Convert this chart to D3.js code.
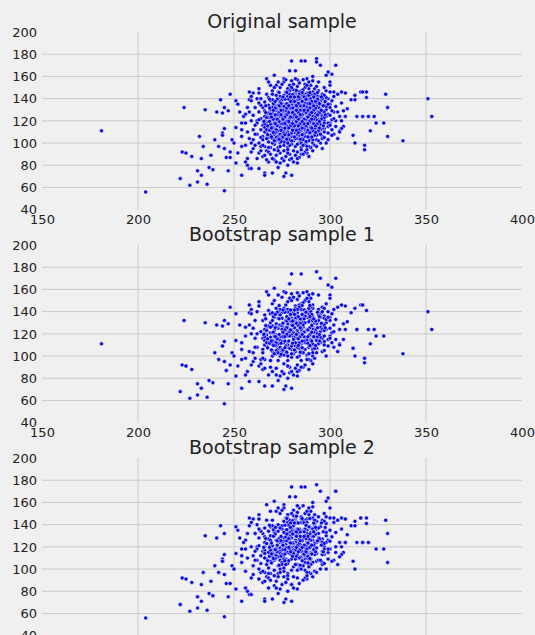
<!DOCTYPE html>
<html>
<head>
<meta charset="utf-8">
<script src="https://cdn.jsdelivr.net/npm/d3@7"></script>
<style>
  html, body { margin: 0; padding: 0; background: #f0f0f0; }
  svg { display: block; }
</style>
</head>
<body>
<svg id="chart" width="535" height="635"></svg>
<script>
// Panel titles and axis ticks
const titles = ["Original sample", "Bootstrap sample 1", "Bootstrap sample 2"];
const xTicks = [150, 200, 250, 300, 350, 400];
const yTicks = [40, 60, 80, 100, 120, 140, 160, 180, 200];

// Original observations [x, y], ten per line
const sample = [
  [181,111],[204,56],[224,132],[223,92],[225,91],[222,68],[227,62],[228,88],[232,106],[234,97],
  [235,130],[231,75],[233,71],[231,65],[236,63],[233,86],[238,89],[237,78],[239,76],[240,103],
  [241,128],[244,127],[242,97],[243,139],[245,57],[244,109],[244,107],[245,95],[245,113],[245,132],
  [247,129],[247,75],[248,144],[246,87],[248,87],[248,92],[249,103],[250,100],[251,138],[252,135],
  [251,114],[252,91],[251,82],[253,128],[254,112],[254,118],[254,106],[254,71],[254,97],[256,126],
  [255,124],[256,118],[256,83],[257,80],[258,77],[257,86],[258,146],[259,77],[258,139],[259,138],
  [259,92],[260,103],[260,145],[263,91],[263,77],[263,149],[266,73],[266,71],[267,158],[262,120],
  [280,174],[285,174],[287,174],[293,176],[293,173],[295,170],[303,170],[299,164],[298,161],[301,162],
  [279,165],[282,165],[271,161],[300,155],[300,152],[302,146],[306,146],[308,145],[304,144],[311,139],
  [313,139],[313,143],[316,146],[317,146],[319,146],[319,141],[329,144],[330,132],[351,140],[353,124],
  [338,102],[330,106],[328,118],[324,118],[321,111],[314,124],[317,124],[320,124],[323,124],[318,98],
  [318,94],[313,100],[312,107],[307,115],[306,113],[305,111],[309,131],[307,129],[305,124],[302,108],
  [301,107],[305,110],[299,115],[297,113],[296,113],[293,107],[293,103],[291,93],[288,91],[286,90],
  [280,71],[277,73],[276,70],[270,73],[283,82],[285,90],[273,78],[278,80],[290,96],[295,100],
  [268,155],[272,152],[276,158],[288,158],[291,160],[284,155],[294,155],[297,150],[265,88],[268,83],
  [271,85],[274,82],[279,85],[264,97],[267,93],[300,135],[302,128],[303,120],[300,118],[299,140],
  [270,147],[274,150],[277,146],[279,152],[281,148],[283,151],[285,147],[287,153],[289,149],[291,146],
  [276,155],[280,156],[282,145],[286,157],[288,145],[273,146],[278,149],[284,154],[290,152],[292,149],
  [271,150],[275,153],[279,147],[283,157],[287,150],[289,155],[293,151],[281,153],[285,145],[277,157],
  [269,152],[273,155],[280,150],[282,158],[286,148],[288,152],[291,156],[294,147],[284,146],[278,146],
  [266,137],[268,141],[270,144],[272,138],[274,142],[275,136],[277,140],[278,144],[279,137],[280,141],
  [281,135],[282,143],[283,139],[284,136],[285,142],[286,138],[287,144],[288,135],[289,141],[290,137],
  [291,143],[292,139],[293,136],[294,142],[295,138],[296,144],[297,136],[298,141],[271,135],[273,140],
  [276,143],[279,139],[281,144],[283,136],[285,139],[287,141],[289,138],[291,136],[293,143],[295,135],
  [267,144],[269,138],[272,143],[275,139],[277,135],[280,138],[282,141],[284,144],[286,135],[288,142],
  [290,140],[292,144],[294,137],[296,140],[278,142],[280,136],[283,142],[286,143],[288,139],[290,144],
  [274,137],[276,141],[279,144],[281,139],[284,140],[287,136],[289,143],[292,141],[270,139],[297,143],
  [263,128],[265,132],[267,126],[268,134],[269,130],[270,127],[271,133],[272,129],[273,125],[274,131],
  [275,134],[276,128],[277,132],[278,126],[279,130],[280,134],[281,127],[282,131],[283,125],[284,133],
  [285,129],[286,126],[287,132],[288,128],[289,134],[290,130],[291,126],[292,133],[293,129],[294,125],
  [295,131],[296,127],[297,134],[298,130],[299,126],[300,132],[266,129],[268,127],[270,132],[272,126],
  [274,128],[276,133],[278,129],[280,125],[282,134],[284,127],[286,131],[288,125],[290,133],[292,127],
  [294,132],[296,129],[271,130],[273,134],[275,127],[277,129],[279,133],[281,129],[283,132],[285,125],
  [287,127],[289,131],[291,129],[293,133],[295,126],[297,128],[264,134],[269,126],[274,133],[278,132],
  [280,128],[282,126],[284,130],[286,134],[288,132],[290,126],[292,130],[276,125],[279,127],[283,129],
  [285,133],[287,130],[289,127],[291,132],[294,128],[298,133],[272,131],[277,126],[281,132],[286,128],
  [262,118],[264,122],[265,116],[266,124],[267,119],[268,115],[269,121],[270,117],[271,123],[272,119],
  [273,116],[274,124],[275,120],[276,117],[277,122],[278,118],[279,124],[280,116],[281,121],[282,119],
  [283,123],[284,117],[285,121],[286,115],[287,119],[288,124],[289,118],[290,122],[291,116],[292,120],
  [293,124],[294,118],[295,122],[296,116],[297,120],[298,124],[299,118],[301,121],[266,120],[268,123],
  [270,121],[272,116],[274,119],[276,123],[278,121],[280,119],[282,124],[284,120],[286,122],[288,116],
  [290,119],[292,123],[294,121],[296,124],[271,118],[273,121],[275,124],[277,117],[279,120],[281,117],
  [283,119],[285,124],[287,122],[289,121],[291,124],[293,119],[295,117],[297,123],[269,117],[272,122],
  [276,120],[278,115],[280,123],[282,117],[284,123],[286,119],[288,120],[290,115],[292,117],[275,117],
  [277,124],[279,118],[281,123],[283,116],[285,118],[287,116],[289,124],[263,121],[267,123],[300,116],
  [274,116],[279,122],[283,121],[288,118],[291,120],[266,117],[281,115],[293,121],[297,118],[285,116],
  [262,108],[264,112],[265,106],[266,114],[267,109],[268,105],[269,111],[270,107],[271,113],[272,109],
  [273,106],[274,114],[275,110],[276,107],[277,112],[278,108],[279,114],[280,106],[281,111],[282,109],
  [283,113],[284,107],[285,111],[286,105],[287,109],[288,114],[289,108],[290,112],[291,106],[292,110],
  [293,114],[294,108],[295,112],[296,106],[297,110],[299,109],[264,105],[266,110],[268,113],[270,111],
  [272,105],[274,108],[276,112],[278,110],[280,113],[282,106],[284,110],[286,113],[288,106],[290,109],
  [292,113],[294,111],[271,108],[273,111],[275,106],[277,109],[279,107],[281,114],[283,108],[285,114],
  [287,112],[289,105],[291,111],[293,107],[269,107],[275,113],[278,105],[282,112],[287,106],[290,114],
  [267,112],[272,112],[276,109],[280,109],[284,112],[288,110],[292,107],[295,108],[270,114],[286,108],
  [263,100],[265,103],[266,97],[268,101],[269,96],[270,104],[271,99],[272,102],[273,96],[274,100],
  [275,104],[276,98],[277,101],[278,96],[279,103],[280,99],[281,102],[282,97],[283,104],[284,100],
  [285,96],[286,103],[287,99],[288,101],[289,97],[290,104],[291,100],[292,98],[294,102],[296,104],
  [267,104],[270,100],[273,103],[276,101],[279,98],[282,104],[285,100],[288,97],[291,103],[293,97],
  [265,98],[268,96],[271,102],[274,97],[277,104],[280,102],[283,99],[286,98],[289,102],[278,100],
  [264,93],[266,89],[268,92],[270,86],[271,94],[272,89],[274,91],[275,86],[276,93],[277,88],
  [278,94],[279,90],[280,86],[281,93],[282,89],[283,92],[284,87],[285,94],[287,92],[289,88],
  [269,90],[273,93],[276,84],[281,83],[288,94],[267,85],[272,83],[278,91],[283,86],[286,90],
  [258,128],[259,120],[260,112],[261,132],[260,125],[261,108],[259,100],[262,140],[263,136],[261,116],
  [257,110],[258,104],[260,95],[262,86],[256,98],[257,132],[259,142],[261,98],[263,145],[264,140],
  [298,147],[300,146],[301,138],[302,142],[303,133],[304,128],[306,136],[303,115],[301,112],[304,104],
  [299,103],[298,100],[300,125],[302,122],[306,120],[308,124],[299,135],[301,129],[297,105],[296,95],
  [270.5,121.5],[273.5,127.5],[276.5,113.5],[279.5,131.5],[282.5,119.5],[285.5,125.5],[288.5,111.5],[291.5,129.5],[274.5,117.5],[277.5,135.5],
  [280.5,123.5],[283.5,109.5],[286.5,133.5],[289.5,119.5],[272.5,125.5],[275.5,105.5],[278.5,139.5],[281.5,115.5],[284.5,129.5],[287.5,121.5],
  [290.5,137.5],[268.5,111.5],[271.5,131.5],[274.5,101.5],[277.5,119.5],[280.5,143.5],[283.5,127.5],[286.5,113.5],[289.5,131.5],[292.5,123.5],
  [269.5,123.5],[272.5,115.5],[275.5,129.5],[278.5,107.5],[281.5,137.5],[284.5,117.5],[287.5,127.5],[290.5,113.5],[293.5,139.5],[266.5,127.5],
  [271.5,109.5],[274.5,135.5],[277.5,125.5],[280.5,111.5],[283.5,121.5],[286.5,141.5],[289.5,125.5],[292.5,131.5],[295.5,121.5],[268.5,131.5],
  [273.5,119.5],[276.5,139.5],[279.5,115.5],[282.5,129.5],[285.5,107.5],[288.5,135.5],[291.5,117.5],[294.5,127.5],[267.5,115.5],[270.5,135.5],
  [273.5,103.5],[276.5,123.5],[279.5,141.5],[282.5,111.5],[285.5,137.5],[288.5,123.5],[291.5,141.5],[294.5,113.5],[269.5,105.5],[272.5,139.5],
  [275.5,117.5],[278.5,127.5],[281.5,105.5],[284.5,133.5],[287.5,115.5],[290.5,127.5],[293.5,117.5],[296.5,133.5],[265.5,119.5],[268.5,139.5],
  [271.5,125.5],[274.5,111.5],[277.5,145.5],[280.5,117.5],[283.5,135.5],[286.5,121.5],[289.5,145.5],[292.5,109.5],[295.5,141.5],[267.5,107.5],
  [270.5,129.5],[273.5,145.5],[276.5,117.5],[279.5,123.5],[282.5,147.5],[285.5,113.5],[288.5,129.5],[291.5,121.5],[294.5,135.5],[297.5,125.5],
  [269.5,113.5],[272.5,121.5],[275.5,141.5],[278.5,119.5],[281.5,125.5],[284.5,103.5],[287.5,139.5],[290.5,105.5],[293.5,125.5],[296.5,115.5],
  [266.5,133.5],[271.5,117.5],[274.5,125.5],[277.5,103.5],[280.5,131.5],[283.5,141.5],[286.5,117.5],[289.5,109.5],[292.5,137.5],[295.5,129.5],
  [268.5,119.5],[273.5,133.5],[276.5,107.5],[279.5,137.5],[282.5,123.5],[285.5,145.5],[288.5,105.5],[291.5,133.5],[294.5,119.5],[297.5,137.5],
  [270.5,109.5],[274.5,129.5],[278.5,113.5],[281.5,141.5],[284.5,125.5],[287.5,101.5],[290.5,121.5],[293.5,145.5],[271.5,137.5],[277.5,131.5],
  [280.5,127.5],[283.5,115.5],[286.5,129.5],[289.5,135.5],[292.5,115.5],[275.5,121.5],[278.5,133.5],[282.5,133.5],[285.5,119.5],[288.5,117.5]
];

// Times each observation was drawn into resample 1, aligned line by line with sample
const resample1Counts = [
  1,0,1,1,2,1,1,1,0,0,
  1,1,2,1,1,0,0,1,1,1,
  1,1,1,0,1,2,0,1,1,1,
  1,1,1,2,0,1,1,1,1,0,
  1,1,1,1,2,0,1,1,1,1,
  0,1,1,0,1,1,2,0,1,1,
  1,1,0,1,1,2,1,0,1,1,
  1,1,0,1,0,1,1,1,0,1,
  2,0,1,1,1,0,1,1,1,1,
  0,1,1,2,0,1,0,0,1,1,
  1,0,1,1,1,2,0,1,1,1,
  1,1,2,1,0,1,1,1,1,1,
  0,1,1,1,0,1,1,2,0,1,
  1,1,1,2,1,1,1,1,1,0,
  1,0,1,1,0,1,1,0,1,1,
  0,1,1,1,0,1,1,0,1,1,
  1,0,1,2,0,1,1,0,1,1,
  0,1,2,1,0,0,1,1,1,0,
  1,1,0,1,2,1,0,1,0,1,
  0,1,1,0,1,1,2,0,1,0,
  1,2,0,1,1,0,1,0,1,1,
  0,1,1,0,2,1,0,1,1,0,
  1,0,0,1,1,2,1,0,1,1,
  1,1,0,2,0,1,1,1,0,1,
  0,1,1,1,0,0,2,1,1,0,
  1,0,2,1,1,0,1,0,0,1,
  2,1,0,1,0,1,1,0,1,1,
  0,1,1,0,1,2,0,1,1,0,
  1,0,1,1,0,1,1,2,0,1,
  1,1,0,0,1,0,2,1,1,0,
  0,2,1,1,0,1,0,1,1,1,
  1,0,1,0,2,1,1,0,1,0,
  1,1,0,1,1,0,1,3,0,1,
  0,1,2,0,1,1,0,1,0,1,
  1,0,1,1,0,2,1,1,0,0,
  1,1,0,1,0,1,0,1,2,1,
  0,1,1,2,1,0,1,0,1,1,
  1,0,0,1,1,1,2,0,1,0,
  1,2,1,0,0,1,1,1,0,1,
  0,1,1,1,0,1,0,2,1,0,
  1,0,2,0,1,1,0,1,1,1,
  1,1,0,1,2,0,1,0,0,1,
  0,1,1,0,1,1,1,2,1,0,
  2,0,1,1,0,1,0,1,1,0,
  1,1,0,1,1,0,2,0,1,1,
  0,1,1,0,0,1,1,1,2,0,
  1,0,1,2,1,0,1,0,1,1,
  1,1,0,0,1,2,0,1,0,1,
  0,2,1,1,0,1,1,0,1,0,
  1,0,1,0,1,1,0,2,1,1,
  1,1,2,1,0,0,1,1,0,1,
  0,1,0,1,1,2,1,0,1,0,
  1,0,1,1,0,1,0,1,2,1,
  2,1,0,1,1,0,1,0,1,0,
  0,1,1,0,2,1,0,1,1,1,
  1,0,1,1,0,1,2,0,0,1,
  1,2,0,1,1,0,1,1,0,1,
  0,1,1,2,0,1,0,1,1,0,
  1,0,1,0,1,1,1,0,2,1,
  1,1,0,1,0,2,0,1,1,0,
  0,1,2,0,1,1,1,0,1,1,
  1,0,1,1,0,0,1,2,1,0,
  1,1,0,1,2,1,0,1,0,1,
  0,1,1,0,1,0,1,1,2,0,
  1,0,2,1,1,0,0,1,1,1,
  0,1,1,1,0,1,2,0,1,0,
  1,0,1,1,2,0,1,0,1,1,
  0,1,1,2,0,1,1,0,1,0,
  1,1,0,1,1,0,2,1,0,1,
  0,1,2,0,1,1,0,1,1,1,
  1,0,1,1,0,1,1,2,0,0,
  1,1,0,1,2,0,1,0,1,1,
  0,1,1,0,1,1,0,1,2,1,
  1,0,2,1,0,1,1,0,1,0,
  1,1,0,0,1,2,1,1,0,1,
  0,1,1,1,0,1,0,2,1,1,
  1,0,1,0,1,1,2,0,1,0,
  2,1,0,1,1,0,1,1,0,1,
  0,1,1,2,0,1,0,1,1,0,
  1,0,1,1,1,0,2,0,1,1,
  1,1,0,1,0,1,1,0,2,1
];

// Times each observation was drawn into resample 2
const resample2Counts = [
  0,1,0,1,1,2,1,1,0,1,
  1,2,1,1,1,1,1,1,2,1,
  1,0,1,1,1,1,2,1,1,1,
  0,1,0,1,1,0,1,2,1,1,
  1,0,1,1,2,1,1,1,0,1,
  1,1,2,1,1,0,1,1,1,0,
  1,1,1,2,0,1,1,1,1,1,
  1,1,1,1,0,1,2,1,1,0,
  1,1,1,1,0,1,1,2,1,1,
  1,1,2,0,1,1,1,1,0,0,
  0,1,1,1,0,1,2,1,0,0,
  0,1,1,1,1,2,1,0,1,1,
  1,0,1,1,2,1,0,1,1,1,
  1,1,1,1,1,0,1,2,1,1,
  0,1,1,0,1,1,0,1,1,1,
  1,1,0,1,1,1,0,1,1,0,
  0,1,1,0,1,2,1,0,1,1,
  1,0,1,1,2,0,1,0,1,1,
  0,1,0,2,1,1,0,1,1,0,
  1,1,1,0,0,1,1,2,0,1,
  1,0,1,1,0,2,0,1,1,0,
  2,1,0,1,1,0,1,1,0,1,
  0,1,1,0,2,1,0,1,1,1,
  1,0,1,1,0,0,1,2,1,0,
  1,2,0,1,1,0,1,0,1,1,
  0,1,1,0,1,1,2,1,0,0,
  1,0,1,2,0,1,0,1,1,1,
  1,1,0,1,1,0,1,0,2,0,
  0,1,2,0,1,1,0,1,1,1,
  1,0,1,1,0,1,1,0,0,2,
  0,1,1,1,2,0,1,1,0,1,
  1,1,0,0,1,1,0,2,1,0,
  1,0,2,1,0,1,1,0,1,1,
  0,1,1,0,1,0,2,1,0,1,
  1,1,0,1,1,2,0,1,1,0,
  0,2,1,0,1,1,0,0,1,1,
  1,0,1,1,0,1,1,2,0,1,
  1,1,0,2,1,0,1,0,1,0,
  0,1,1,0,1,1,0,1,2,1,
  1,0,0,1,2,1,1,0,1,0,
  1,1,1,0,0,1,2,1,0,1,
  0,1,0,1,1,0,1,1,1,2,
  2,0,1,1,0,1,0,1,1,0,
  1,1,0,1,1,0,1,2,0,1,
  0,1,2,0,1,1,0,1,1,0,
  1,0,1,1,0,2,1,0,1,1,
  1,1,0,1,1,0,0,1,2,0,
  0,1,1,2,0,1,1,0,1,1,
  1,0,1,0,1,1,2,0,1,0,
  1,2,0,1,0,1,1,1,0,1,
  0,1,1,0,1,0,1,2,1,1,
  1,0,1,1,2,1,0,1,0,0,
  1,1,0,0,1,1,1,0,2,1,
  0,1,2,1,0,1,0,1,1,0,
  1,0,1,1,1,0,2,0,1,1,
  1,1,0,1,0,1,1,0,1,2,
  0,2,1,0,1,1,0,1,0,1,
  1,0,1,1,0,2,1,1,0,1,
  1,1,0,1,1,0,1,0,2,0,
  0,1,1,0,2,1,0,1,1,1,
  1,0,2,1,0,1,1,0,1,0,
  1,1,0,1,1,0,2,1,0,1,
  0,1,1,2,0,1,0,1,1,1,
  1,0,1,0,1,1,1,0,2,0,
  2,1,0,1,1,0,1,1,0,1,
  0,1,1,0,1,2,0,1,1,0,
  0,1,1,0,1,1,2,1,0,1,
  1,0,2,1,1,0,1,0,1,1,
  0,1,1,0,2,1,0,1,1,0,
  1,1,0,1,0,1,1,2,0,1,
  2,0,1,1,0,1,0,1,1,0,
  0,1,1,2,1,0,1,1,0,1,
  1,0,1,1,0,2,1,0,1,0,
  1,1,0,1,1,0,0,1,2,1,
  0,1,2,0,1,1,1,0,1,1,
  1,0,1,1,2,0,1,1,0,0,
  1,1,0,1,0,1,2,0,1,1,
  0,2,1,0,1,1,0,1,1,0,
  1,0,1,1,0,1,1,2,0,1,
  1,1,0,2,1,0,1,0,1,1,
  0,1,1,0,1,2,0,1,1,0
];

// Expand an observation list by its draw counts
function drawn(counts) {
  return sample.flatMap((p, i) => d3.range(counts[i] || 0).map(() => p));
}
const panelData = [sample, drawn(resample1Counts), drawn(resample2Counts)];

// Layout
const W = 535;
const left = 42, right = 522;
const panelTops = [32, 245, 458];
const panelH = 177.7;
const font = "'DejaVu Sans', 'Liberation Sans', sans-serif";
const gridColor = "#cbcbcb";
const textColor = "#222222";

const svg = d3.select("#chart");
svg.append("rect").attr("width", W).attr("height", 635).attr("fill", "#f0f0f0");

const x = d3.scaleLinear().domain([150, 400]).range([left, right]);

panelData.forEach((pts, k) => {
  const top = panelTops[k];
  const y = d3.scaleLinear().domain([40, 200]).range([top + panelH, top]);
  const g = svg.append("g");

  // grid lines (interior ticks only)
  g.append("g").selectAll("line")
    .data(xTicks.slice(1, -1))
    .join("line")
    .attr("x1", d => x(d)).attr("x2", d => x(d))
    .attr("y1", y(200)).attr("y2", y(40))
    .attr("stroke", gridColor).attr("stroke-width", 1);
  g.append("g").selectAll("line")
    .data(yTicks.slice(1, -1))
    .join("line")
    .attr("x1", left).attr("x2", right)
    .attr("y1", d => y(d)).attr("y2", d => y(d))
    .attr("stroke", gridColor).attr("stroke-width", 1);

  // points
  g.append("g").selectAll("circle")
    .data(pts)
    .join("circle")
    .attr("cx", d => x(d[0]))
    .attr("cy", d => y(d[1]))
    .attr("r", 2)
    .attr("fill", "#0000ff")
    .attr("stroke", "#ffffff")
    .attr("stroke-width", 0.5);

  // axes
  const xAxis = g.append("g")
    .attr("transform", `translate(0,${y(40)})`)
    .call(d3.axisBottom(x).tickValues(xTicks).tickSize(0).tickPadding(5).tickFormat(d3.format("d")));
  const yAxis = g.append("g")
    .attr("transform", `translate(${left},0)`)
    .call(d3.axisLeft(y).tickValues(yTicks).tickSize(0).tickPadding(5).tickFormat(d3.format("d")));
  [xAxis, yAxis].forEach(a => {
    a.select(".domain").remove();
    a.selectAll("text")
      .attr("fill", textColor)
      .style("font-family", font)
      .style("font-size", "13px");
  });

  // title
  g.append("text")
    .attr("x", (left + right) / 2)
    .attr("y", top - 4)
    .attr("text-anchor", "middle")
    .attr("fill", textColor)
    .style("font-family", font)
    .style("font-size", "19px")
    .text(titles[k]);
});
</script>
</body>
</html>
